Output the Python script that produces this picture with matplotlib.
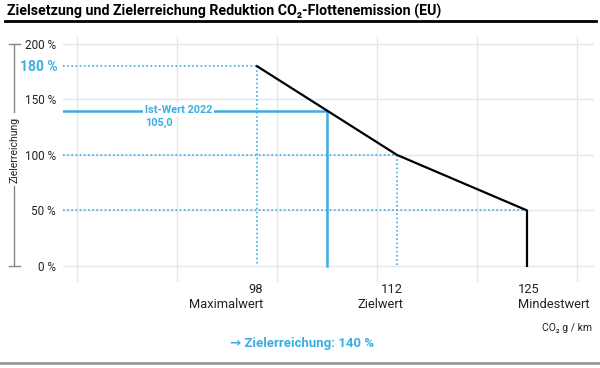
import matplotlib.pyplot as plt
from matplotlib.lines import Line2D

# Daten
kurve_x = [98, 112, 125, 125]
kurve_y = [180, 100, 50, 0]
ist_x = 105
ist_y = 140
y_ticks = [0, 50, 100, 150, 200]
y_labels = ["0 %", "50 %", "100 %", "150 %", "200 %"]
x_ticks = [98, 112, 125]
x_labels = ["98\nMaximalwert", "112\nZielwert", "125\nMindestwert"]
x_grid = [80, 90, 100, 110, 120, 130]

BLAU = "#3aaee2"
GRAU = "#e6e6e6"
TEXT = "#222222"

plt.rcParams['font.family'] = ['Roboto', 'DejaVu Sans']

fig = plt.figure(figsize=(6, 3.68), dpi=100)
ax = fig.add_axes([0.105, 0.234, 0.885, 0.6655])
ax.set_xlim(78.6, 131.7)
ax.set_ylim(-14.4, 206.3)

for s in ax.spines.values():
    s.set_visible(False)

# Gitter
for g in x_grid:
    ax.axvline(g, color=GRAU, lw=1, zorder=0)
for t in y_ticks:
    ax.axhline(t, color=GRAU, lw=1, zorder=0)

# Achsenbeschriftung
ax.set_yticks(y_ticks)
ax.set_yticklabels(y_labels, fontsize=8.5, color=TEXT)
ax.tick_params(axis='y', length=0, pad=5)
ax.set_xticks([])
# x-Labels leicht versetzt wie im Original
for xt, lab, ha, dx in zip(x_ticks, x_labels, ["right", "right", "left"], [0.6, 0.6, -0.9]):
    ax.text(xt + dx, -0.005, lab, transform=ax.get_xaxis_transform(), fontsize=9.3,
            color=TEXT, ha=ha, va='top', multialignment=ha, linespacing=1.2)

# gepunktete Hilfslinien
dot = dict(color=BLAU, lw=1.2, ls=(0, (1, 1.5)), zorder=2)
xmin = ax.get_xlim()[0]
ax.plot([xmin, kurve_x[0]], [kurve_y[0], kurve_y[0]], **dot)
ax.plot([kurve_x[0], kurve_x[0]], [kurve_y[0], 0], **dot)
ax.plot([xmin, kurve_x[1]], [kurve_y[1], kurve_y[1]], **dot)
ax.plot([kurve_x[1], kurve_x[1]], [kurve_y[1], 0], **dot)
ax.plot([xmin, kurve_x[2]], [kurve_y[2], kurve_y[2]], **dot)

# Ist-Wert
ax.plot([xmin, ist_x, ist_x], [ist_y, ist_y, 0], color=BLAU, lw=1.8, zorder=3)
ax.text(86.8, ist_y + 0.5, "Ist-Wert 2022", color=BLAU, fontsize=7.8, fontweight='bold',
        va='center', ha='left', zorder=4,
        bbox=dict(facecolor='white', edgecolor='none', pad=1.5))
ax.text(86.8, ist_y - 11.5, "105,0", color=BLAU, fontsize=7.8, fontweight='bold',
        va='center', ha='left', zorder=4)

# Kurve
ax.plot(kurve_x, kurve_y, color='black', lw=1.6, zorder=5)

# 180 % Label
fig.text(58 / 600, 1 - 67 / 368, "180 %", color=BLAU, fontsize=10, fontweight='bold',
         ha='right', va='center')

# y-Achsentitel mit Klammer
fig.text(14 / 600, 1 - 150 / 368, "Zielerreichung", rotation=90, fontsize=7.5,
         color=TEXT, ha='center', va='center')
for seg in [(44, 112), (186, 266)]:
    fig.add_artist(Line2D([14 / 600, 14 / 600], [1 - seg[0] / 368, 1 - seg[1] / 368],
                          color='#888888', lw=1))
for yy in [44, 266]:
    fig.add_artist(Line2D([9 / 600, 20 / 600], [1 - yy / 368, 1 - yy / 368],
                          color='#888888', lw=1))

# Titel
fig.text(7 / 600, 1 - 11 / 368, "Zielsetzung und Zielerreichung Reduktion CO₂-Flottenemission (EU)",
         fontsize=10.2, fontweight='bold', color='black', ha='left', va='center')
fig.add_artist(Line2D([5 / 600, 596 / 600], [1 - 21 / 368, 1 - 21 / 368], color='black', lw=2))

# Einheit und Fazit
fig.text(592 / 600, 1 - 328 / 368, "CO₂ g / km", fontsize=7.5, color=TEXT, ha='right', va='center')
fig.text(230 / 600, 1 - 344 / 368, "→ Zielerreichung: 140 %", fontsize=9.5, fontweight='bold',
         color=BLAU, ha='left', va='center')
fig.add_artist(Line2D([0, 1], [1 - 363 / 368, 1 - 363 / 368], color='#999999', lw=2))

fig.savefig("out.png", dpi=100)
